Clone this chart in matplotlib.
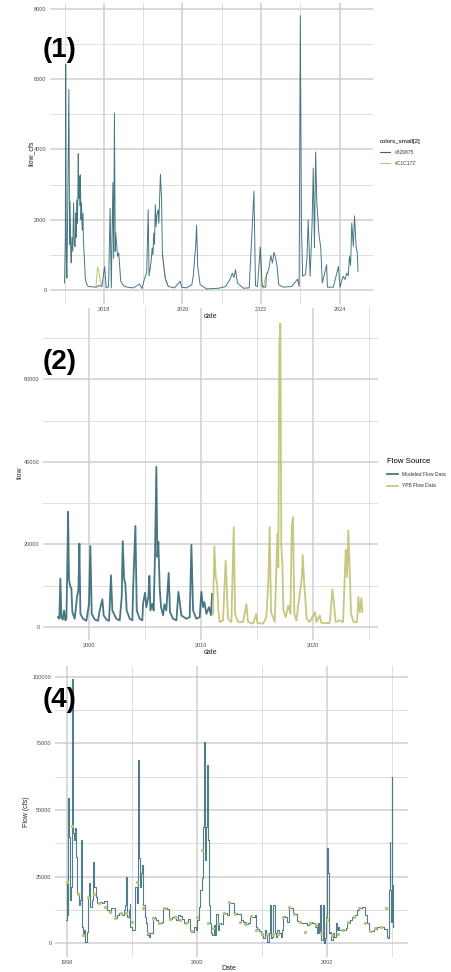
import matplotlib
matplotlib.use("Agg")
import matplotlib.pyplot as plt
from matplotlib.ticker import MultipleLocator
from matplotlib.lines import Line2D

plt.rcParams["font.family"] = ["Liberation Sans", "DejaVu Sans"]

TEAL = "#326875"
OLIVE = "#C1C172"
NAN = float("nan")

# ---- panel (1): flow_cfs, 2017-2024 ----
p1_teal_t = [2017.00, 2017.02, 2017.03, 2017.045, 2017.06, 2017.08, 2017.11, 2017.13, 2017.14,
             2017.16, 2017.17, 2017.19, 2017.21, 2017.23, 2017.25, 2017.27, 2017.29, 2017.30,
             2017.31, 2017.33, 2017.35, 2017.36, 2017.37, 2017.39, 2017.40, 2017.42, 2017.43,
             2017.45, 2017.47, 2017.48, 2017.50, 2017.53, 2017.58, 2017.64, 2017.69, 2017.75,
             2017.82, 2017.87, 2017.95, 2018.02, 2018.06, 2018.12, 2018.16, 2018.19, 2018.23,
             2018.25, 2018.27, 2018.29, 2018.30, 2018.32, 2018.35, 2018.38, 2018.43, 2018.50,
             2018.58, 2018.75, 2018.91, 2018.97, 2019.03, 2019.09, 2019.13, 2019.15, 2019.19,
             2019.21, 2019.23, 2019.25, 2019.27, 2019.29, 2019.31, 2019.33, 2019.35, 2019.38,
             2019.40, 2019.42, 2019.44, 2019.47, 2019.49, 2019.56, 2019.64, 2019.80, 2019.94,
             2019.98, 2020.10, 2020.24, 2020.28, 2020.31, 2020.34, 2020.36, 2020.39, 2020.45,
             2020.62, 2020.92, 2021.10, 2021.21, 2021.27, 2021.31, 2021.35, 2021.40, 2021.55,
             2021.70, 2021.82, 2021.86, 2021.91, 2021.98, 2022.03, 2022.12, 2022.14, 2022.20,
             2022.25, 2022.29, 2022.33, 2022.36, 2022.41, 2022.45, 2022.57, 2022.78, 2022.93,
             2022.97, 2023.00, 2023.03, 2023.06, 2023.13, 2023.17, 2023.20, 2023.25, 2023.30,
             2023.33, 2023.36, 2023.39, 2023.42, 2023.45, 2023.47, 2023.52, 2023.56, 2023.67,
             2023.69, 2023.84, 2023.97, 2024.01, 2024.09, 2024.14, 2024.18, 2024.22, 2024.25,
             2024.28, 2024.31, 2024.35, 2024.38, 2024.42, 2024.45, 2024.47]
p1_teal_v = [200, 1500, 6430, 900, 340, 2200, 5720, 1300, 2520,
             1000, 770, 1500, 1100, 2480, 1300, 1240, 2200, 1500,
             2570, 1900, 3880, 2600, 3240, 2400, 3280, 2000, 2480,
             1700, 2190, 1400, 1000, 300, 120, 90, 100, 80,
             85, 130, 100, 670, 60, 90, 2330, 60, 3060,
             900, 5040, 1100, 1620, 1390, 960, 1050, 250, 120,
             85, 60, 170, 40, 300, 500, 2290, 400, 690,
             900, 1200, 1000, 1620, 1300, 2430, 1800, 2140, 2290,
             1900, 2570, 3300, 2570, 1050, 340, 100, 60, 250,
             80, 60, 150, 440, 900, 1270, 1850, 670, 150,
             30, 50, 100, 300, 480, 350, 580, 200, 50,
             60, 2810, 120, 100, 1220, 100, 80, 440, 600,
             980, 770, 1070, 960, 670, 150, 80, 100, 310,
             100, 7810, 1770, 390, 440, 900, 2000, 390, 1910,
             3470, 1200, 3930, 2480, 2000, 1620, 1200, 200, 720,
             80, 80, 670, 80, 390, 300, 480, 400, 960,
             700, 1910, 1240, 2110, 1240, 1050, 530]
# the second colour only shows where it departs from the first
p1_olive_t = [2017.80, 2017.84, 2017.87, 2017.91, 2017.95, NAN,
              2019.49, 2019.53, 2019.58, 2019.64, NAN,
              2021.98, 2022.02, 2022.06, 2022.10, 2022.14, 2022.18]
p1_olive_v = [85, 650, 560, 250, 100, NAN,
              1050, 600, 250, 100, NAN,
              1220, 150, 50, 300, 420, 500]

# ---- panel (2): modeled vs YPB flow, 1997-2024 ----
p2_model_t = [1997.23, 1997.35, 1997.44, 1997.53, 1997.65, 1997.77, 1997.89, 1997.98, 1998.07,
              1998.13, 1998.21, 1998.33, 1998.42, 1998.51, 1998.72, 1998.93, 1999.05, 1999.14,
              1999.23, 1999.46, 1999.76, 2000.00, 2000.12, 2000.24, 2000.51, 2000.80, 2000.95,
              2001.19, 2001.31, 2001.55, 2001.79, 2001.96, 2002.08, 2002.44, 2002.74, 2002.92,
              2003.01, 2003.13, 2003.24, 2003.36, 2003.63, 2003.87, 2003.93, 2004.14, 2004.26,
              2004.52, 2004.76, 2004.82, 2005.00, 2005.12, 2005.30, 2005.39, 2005.48, 2005.65,
              2005.77, 2005.89, 2006.01, 2006.10, 2006.19, 2006.31, 2006.43, 2006.61, 2006.73,
              2006.90, 2007.11, 2007.23, 2007.50, 2007.80, 2007.98, 2008.10, 2008.24, 2008.69,
              2008.99, 2009.14, 2009.29, 2009.58, 2009.88, 2010.03, 2010.18, 2010.30, 2010.48,
              2010.71, 2010.89, 2010.98]
p2_model_v = [2400, 2000, 11700, 2400, 1800, 4000, 1600, 2000, 16500,
              27900, 11500, 9700, 9500, 3600, 2000, 7300, 8900, 20200,
              3200, 2000, 1500, 5650, 19600, 3200, 1800, 1500, 4000,
              6700, 2800, 1800, 1500, 12500, 4000, 2000, 1600, 7300,
              20800, 11700, 10500, 4000, 2000, 1600, 8900, 24500, 4000,
              2000, 1600, 5650, 8300, 4800, 7300, 12400, 4000, 5650,
              4000, 17400, 38800, 17000, 20600, 9300, 4800, 2800, 5500,
              4000, 13100, 3600, 2000, 1600, 8500, 6000, 2800, 2000,
              2400, 19900, 4000, 2000, 2400, 8500, 4800, 6000, 3200,
              4800, 2800, 8000]
p2_ypb_t = [2010.98, 2011.07, 2011.19, 2011.31, 2011.43, 2011.55, 2011.67, 2011.96, 2012.20,
            2012.29, 2012.41, 2012.71, 2012.92, 2013.04, 2013.30, 2013.75, 2014.05, 2014.20,
            2014.64, 2014.94, 2015.03, 2015.54, 2015.83, 2016.01, 2016.13, 2016.25, 2016.58,
            2016.82, 2016.90, 2016.99, 2017.08, 2017.17, 2017.26, 2017.35, 2017.56, 2017.80,
            2017.98, 2018.10, 2018.21, 2018.33, 2018.51, 2018.99, 2019.08, 2019.20, 2019.32,
            2019.43, 2019.70, 2020.18, 2020.30, 2020.60, 2020.74, 2021.49, 2021.73, 2021.88,
            2022.02, 2022.38, 2022.68, 2022.92, 2023.04, 2023.15, 2023.27, 2023.39, 2023.63,
            2023.93, 2024.05, 2024.17, 2024.32, 2024.40]
p2_ypb_v = [3000, 3200, 19500, 12100, 10700, 4000, 1200, 1600, 16100,
            10500, 2000, 1200, 24100, 3200, 1200, 1200, 5500, 1200,
            800, 3200, 960, 800, 2400, 11300, 24200, 3600, 1200,
            22600, 14500, 68200, 73500, 19400, 15300, 4000, 2400, 5200,
            3200, 24200, 26600, 3200, 1600, 11700, 17400, 10900, 6500,
            2000, 1200, 3600, 1200, 2800, 960, 960, 9100, 5200,
            1200, 1600, 1200, 18700, 12100, 23400, 14100, 3200, 1200,
            1200, 7300, 3600, 7000, 3600]

# ---- panel (4): daily flow (line) with monthly observations (points), 1998-2002 ----
p4_t = [1997.990, 1998.000, 1998.015, 1998.026, 1998.036, 1998.046, 1998.062, 1998.082, 1998.093, 1998.103,
        1998.118, 1998.134, 1998.144, 1998.165, 1998.185, 1998.206, 1998.221, 1998.237, 1998.252, 1998.267,
        1998.288, 1998.308, 1998.324, 1998.340, 1998.350, 1998.365, 1998.386, 1998.401, 1998.416, 1998.437,
        1998.452, 1998.473, 1998.514, 1998.540, 1998.576, 1998.607, 1998.617, 1998.648, 1998.679, 1998.720,
        1998.746, 1998.781, 1998.812, 1998.843, 1998.874, 1998.900, 1998.915, 1998.931, 1998.951, 1998.967,
        1998.977, 1999.003, 1999.039, 1999.054, 1999.075, 1999.090, 1999.100, 1999.111, 1999.126, 1999.147,
        1999.162, 1999.177, 1999.198, 1999.219, 1999.239, 1999.260, 1999.285, 1999.311, 1999.332, 1999.352,
        1999.373, 1999.398, 1999.429, 1999.460, 1999.481, 1999.517, 1999.542, 1999.568, 1999.594, 1999.620,
        1999.650, 1999.681, 1999.707, 1999.748, 1999.774, 1999.810, 1999.841, 1999.866, 1999.892, 1999.933,
        1999.964, 1999.990, 2000.005, 2000.031, 2000.057, 2000.077, 2000.093, 2000.103, 2000.118, 2000.134,
        2000.149, 2000.159, 2000.170, 2000.185, 2000.200, 2000.221, 2000.242, 2000.262, 2000.283, 2000.303,
        2000.324, 2000.350, 2000.375, 2000.406, 2000.442, 2000.468, 2000.494, 2000.519, 2000.545, 2000.571,
        2000.612, 2000.648, 2000.674, 2000.715, 2000.751, 2000.787, 2000.817, 2000.853, 2000.889, 2000.905,
        2000.931, 2000.956, 2000.982, 2001.003, 2001.023, 2001.044, 2001.064, 2001.085, 2001.105, 2001.126,
        2001.147, 2001.162, 2001.177, 2001.198, 2001.213, 2001.229, 2001.260, 2001.290, 2001.316, 2001.332,
        2001.352, 2001.383, 2001.414, 2001.434, 2001.455, 2001.486, 2001.517, 2001.548, 2001.589, 2001.625,
        2001.661, 2001.692, 2001.728, 2001.753, 2001.774, 2001.805, 2001.825, 2001.846, 2001.866, 2001.882,
        2001.897, 2001.918, 2001.938, 2001.959, 2001.974, 2001.990, 2002.005, 2002.015, 2002.031, 2002.051,
        2002.072, 2002.093, 2002.113, 2002.139, 2002.154, 2002.175, 2002.195, 2002.216, 2002.242, 2002.267,
        2002.293, 2002.319, 2002.360, 2002.396, 2002.432, 2002.463, 2002.494, 2002.524, 2002.550, 2002.591,
        2002.617, 2002.648, 2002.689, 2002.730, 2002.771, 2002.833, 2002.859, 2002.884, 2002.920, 2002.946,
        2002.956, 2002.967, 2002.977, 2002.987, 2002.997, 2003.008, 2003.018]
p4_v = [8750, 23100, 10600, 54400, 40000, 16250, 21250, 99100, 77500, 41250,
        38750, 43100, 32500, 18750, 14400, 16250, 38750, 6250, 3100, 5000,
        600, 4400, 17500, 17500, 22500, 13750, 16250, 30600, 21250, 21250,
        17500, 15000, 15600, 15000, 15900, 15900, 12500, 11900, 13100, 13100,
        9600, 10600, 11250, 10600, 12500, 14400, 25000, 10000, 12500, 14600,
        6250, 5000, 5000, 21250, 15000, 23750, 68750, 31900, 21250, 26250,
        29400, 14400, 10000, 7500, 3100, 2500, 4000, 3750, 10000, 9600,
        8750, 7500, 7750, 8100, 13400, 13100, 12750, 9400, 9000, 10000,
        10300, 8750, 10600, 10300, 9000, 7500, 8100, 9000, 5000, 4400,
        6000, 5000, 8750, 13750, 20000, 24400, 35000, 43750, 75600, 31250,
        43750, 66900, 38750, 14400, 7500, 3750, 3100, 6900, 3100, 11000,
        5000, 7750, 7250, 11250, 11500, 10600, 15000, 15000, 15250, 11250,
        11000, 10900, 8750, 8100, 7250, 7500, 10000, 10000, 10600, 6250,
        5250, 4600, 3100, 3750, 1900, 5000, 3100, 600, 3750, 14400,
        2100, 2500, 14400, 3750, 2500, 5000, 3750, 2500, 5000, 10200,
        10000, 8100, 13750, 13400, 13100, 11250, 10900, 8400, 7750, 7750,
        7500, 6900, 7750, 8100, 7500, 7500, 6250, 3750, 7500, 3750,
        14400, 1250, 14400, 0, 1900, 10000, 35600, 26250, 3750, 4400,
        1250, 3750, 2500, 7500, 5000, 6250, 5000, 5000, 5250, 5000,
        5600, 7750, 8750, 10000, 10600, 12500, 13400, 13400, 13750, 10600,
        7750, 4750, 4750, 5250, 6000, 6000, 6250, 5250, 2500, 2100,
        20000, 38100, 20000, 8100, 62500, 21900, 6250]
p4_obs_v = [23100, 44000, 18500, 3100, 17500, 18500, 15000, 13750, 11900, 9600, 11250, 11500,
            7900, 23100, 13100, 3750, 9600, 7500, 13100, 9000, 10000, 8750, 7500, 4600,
            10000, 35000, 7500, 5600, 7750, 11250, 15400, 10900, 8100, 7100, 10200, 5000,
            3500, 3500, 3500, 3500, 10000, 13500, 11000, 8100, 4400, 7500, 6900, 3750,
            8750, 3100, 3400, 5000, 7900, 9750, 13400, 7500, 4750, 5600, 6250, 13100]
# one observation at the start of each month from Jan 1998
p4_obs_t = [1998 + m / 12 for m in range(len(p4_obs_v))]

W, H = 452, 972
fig = plt.figure(figsize=(W / 100, H / 100), dpi=100)


def px_axes(x0, y0, x1, y1):
    ax = fig.add_axes([x0 / W, 1 - y1 / H, (x1 - x0) / W, (y1 - y0) / H])
    ax.set_facecolor("none")
    for s in ax.spines.values():
        s.set_visible(False)
    ax.tick_params(which="both", length=0, labelsize=4, labelcolor="#4d4d4d", pad=2.5)
    return ax


def style_grid(ax, xmaj, xmin, ymaj, ymin):
    ax.xaxis.set_major_locator(MultipleLocator(xmaj))
    ax.xaxis.set_minor_locator(MultipleLocator(xmin))
    ax.yaxis.set_major_locator(MultipleLocator(ymaj))
    ax.yaxis.set_minor_locator(MultipleLocator(ymin))
    ax.grid(which="major", color="#cfcfcf", lw=1.1)
    ax.grid(which="minor", color="#d9d9d9", lw=0.6)
    ax.set_axisbelow(True)
    ax.xaxis.set_major_formatter(lambda v, p: f"{v:.0f}")
    ax.yaxis.set_major_formatter(lambda v, p: f"{v:.0f}")


def fig_text(x, y, s, **kw):
    fig.text(x / W, 1 - y / H, s, ha="center", va="center", **kw)


# panel 1
ax1 = px_axes(50, 3, 373, 304)
ax1.plot(p1_olive_t, p1_olive_v, color=OLIVE, lw=0.7)
ax1.plot(p1_teal_t, p1_teal_v, color=TEAL, lw=0.7, alpha=0.9)
ax1.set_xlim(2016.63, 2024.85)
ax1.set_ylim(-399, 8171)
style_grid(ax1, 2, 1, 2000, 1000)
fig_text(211, 316, "date", fontsize=5, color="#222222")
fig_text(32, 153, "flow_cfs", fontsize=5, color="#222222", rotation=90)
fig_text(60, 50, "(1)", fontsize=20, fontweight="bold")
leg1 = ax1.legend(handles=[Line2D([], [], color=TEAL, lw=0.8), Line2D([], [], color=OLIVE, lw=0.8)],
                  labels=["#326875", "#C1C172"], title="colors_small[2]",
                  loc="upper left", bbox_to_anchor=(380 / W, 1 - 139 / H),
                  bbox_transform=fig.transFigure, frameon=False, fontsize=3.6,
                  title_fontsize=4.4, handlelength=2.0, handletextpad=0.9,
                  labelspacing=1.3, borderaxespad=0, borderpad=0, alignment="left")
leg1._legend_box.sep = 4
for t in leg1.get_texts():
    t.set_color("#333333")

# panel 2
ax2 = px_axes(43, 308, 378, 640)
ax2.plot(p2_model_t, p2_model_v, color=TEAL, lw=1.3, alpha=0.9, label="Modeled Flow Data")
ax2.plot(p2_ypb_t, p2_ypb_v, color=OLIVE, lw=1.3, alpha=0.9, label="YPB Flow Data")
ax2.set_xlim(1995.89, 2025.8)
ax2.set_ylim(-3150, 77280)
style_grid(ax2, 10, 5, 20000, 10000)
fig_text(211, 652, "date", fontsize=5, color="#222222")
fig_text(20, 473, "flow", fontsize=5, color="#222222", rotation=90)
fig_text(60, 362, "(2)", fontsize=20, fontweight="bold")
leg2 = ax2.legend(loc="upper left", bbox_to_anchor=(387 / W, 1 - 458 / H),
                  bbox_transform=fig.transFigure, frameon=False, fontsize=3.6,
                  title="Flow Source", title_fontsize=5.6, handlelength=2.2,
                  handletextpad=0.9, labelspacing=1.3, borderaxespad=0, borderpad=0,
                  alignment="left")
leg2._legend_box.sep = 5
for t in leg2.get_texts():
    t.set_color("#333333")

# panel 4
ax3 = px_axes(55, 666, 408, 957)
ax3.plot(p4_t, p4_v, color=TEAL, lw=0.8, alpha=0.85, drawstyle="steps-post")
ax3.scatter(p4_obs_t, p4_obs_v, s=6, color=OLIVE, zorder=3, linewidths=0)
ax3.set_xlim(1997.82, 2003.25)
ax3.set_ylim(-5140, 104000)
style_grid(ax3, 2, 1, 25000, 12500)
fig_text(229, 968, "Date", fontsize=5, color="#222222")
fig_text(27, 812, "Flow (cfs)", fontsize=5, color="#222222", rotation=90)
fig_text(60, 700, "(4)", fontsize=20, fontweight="bold")

fig.savefig("out.png", dpi=100)
